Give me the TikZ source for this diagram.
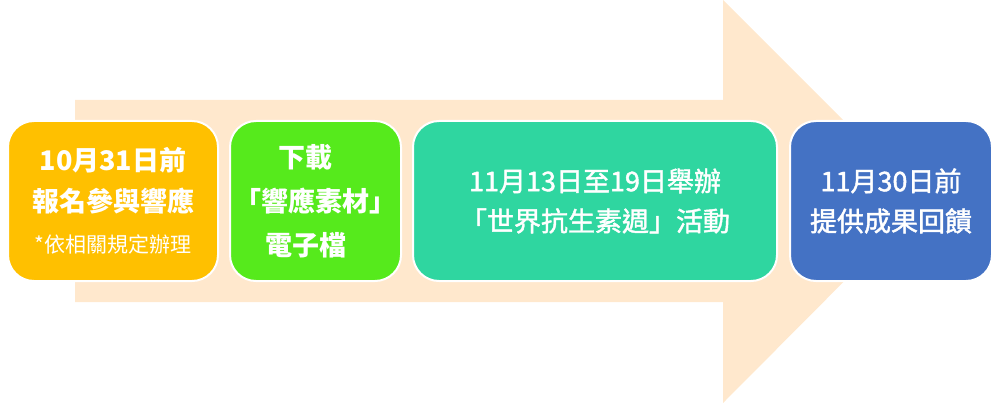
\documentclass[tikz,border=0pt]{standalone}
\usepackage{fontspec}
\newfontfamily\cjk{Noto Sans CJK TC}
\newfontfamily\cjkmed[FakeBold=1.6]{Noto Sans CJK TC}
\usetikzlibrary{positioning}
\definecolor{arrowfill}{HTML}{FFE8CD}
\definecolor{stageorange}{HTML}{FFC000}
\definecolor{stagegreen}{HTML}{56EA1C}
\definecolor{stageteal}{HTML}{2FD6A0}
\definecolor{stageblue}{HTML}{4472C4}
\tikzset{every picture/.style={line cap=round, line join=round}}
\tikzset{stage/.style={draw=white, rectangle, rounded corners=26pt,
  minimum height=160pt, line width=2pt, align=center, text=white,
  inner sep=0pt, font=\cjkmed\fontsize{27}{40}\selectfont}}

\begin{document}
\begin{tikzpicture}[x=1pt,y=-1pt]
  \useasboundingbox (0,0) rectangle (1000,403);
  % big arrow behind the stages
  \fill[arrowfill] (75,100) -- (723,100) -- (723,0) -- (924,201)
    -- (723,403) -- (723,302) -- (75,302) -- cycle;

  % stages
  \node[stage, fill=stageorange, minimum width=210pt, font=\cjk\bfseries\fontsize{27}{41}\selectfont]
    (signup) at (113,201) {10月31日前\\報名參與響應\\{\mdseries\fontsize{21}{24}\selectfont *依相關規定辦理}};
  \node[stage, fill=stagegreen, minimum width=171pt, font=\cjk\bfseries\fontsize{27}{44}\selectfont]
    (download) at (315.5,201) {下載\hspace*{20pt}\\「響應素材」\\電子檔\hspace*{20pt}};
  \node[stage, fill=stageteal, minimum width=364pt]
    (week) at (595,201) {11月13日至19日舉辦\\「世界抗生素週」活動};
  \node[stage, fill=stageblue, minimum width=202pt]
    (report) at (891,201) {11月30日前\\提供成果回饋};
\end{tikzpicture}
\end{document}
